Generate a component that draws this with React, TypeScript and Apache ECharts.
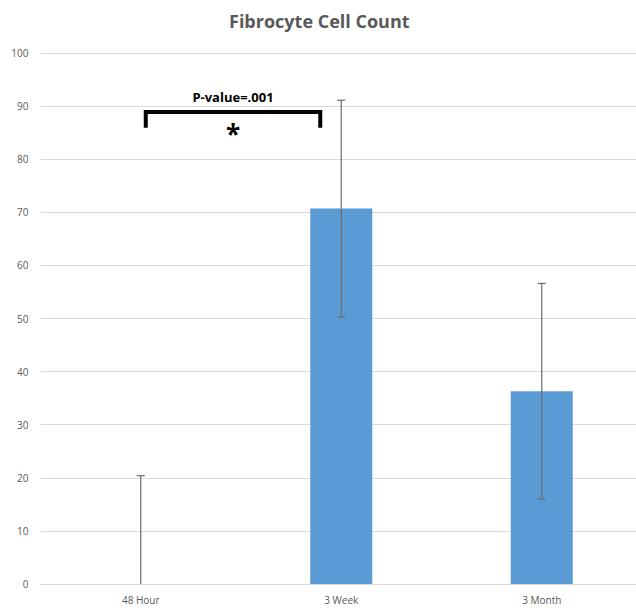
import React, { useEffect, useRef } from "react";
import * as echarts from "echarts";

const categories = ["48 Hour", "3 Week", "3 Month"];
const means = [0, 70.7, 36.3];
const errors = [20.4, 20.4, 20.3];
const bracket = { from: 0, to: 1, top: 88.9, bottom: 85.9, label: "P-value=.001", mark: "*" };

export default function App() {
  const ref = useRef<HTMLDivElement>(null);
  useEffect(() => {
    if (!ref.current) return;
    const chart = echarts.init(ref.current, null, { renderer: "svg" });
    const gray = "#595959";
    chart.setOption({
      animation: false,
      title: {
        text: "Fibrocyte Cell Count",
        left: 224,
        top: 7,
        textStyle: { fontFamily: "Open Sans", fontWeight: "bold", fontSize: 18, color: gray },
      },
      grid: { left: 40.5, right: 0, top: 53, bottom: 26, containLabel: false },
      xAxis: {
        type: "category",
        data: categories,
        axisLine: { lineStyle: { color: "#d9d9d9", width: 1 } },
        axisTick: { show: false },
        axisLabel: { color: gray, fontSize: 10, fontFamily: "Open Sans", margin: 11 },
      },
      yAxis: {
        type: "value",
        min: 0,
        max: 100,
        interval: 10,
        axisLine: { show: false },
        axisTick: { show: false },
        axisLabel: { color: gray, fontSize: 10, fontFamily: "Open Sans", margin: 12 },
        splitLine: { lineStyle: { color: "#d9d9d9", width: 1 } },
      },
      series: [
        {
          type: "bar",
          data: means,
          barWidth: 62,
          itemStyle: { color: "#5b9bd5" },
        },
        {
          type: "custom",
          data: means.map((m, i) => [i, m - errors[i], m + errors[i]]),
          renderItem: (params: any, api: any) => {
            const x = api.value(0);
            const lo = api.coord([x, Math.max(0, api.value(1))]);
            const hi = api.coord([x, api.value(2)]);
            const cap = 4;
            const style = { stroke: "#6b6b6b", lineWidth: 1.2 };
            const children: any[] = [
              { type: "line", shape: { x1: lo[0], y1: lo[1], x2: hi[0], y2: hi[1] }, style },
              { type: "line", shape: { x1: hi[0] - cap, y1: hi[1], x2: hi[0] + cap, y2: hi[1] }, style },
            ];
            if (api.value(1) > 0) {
              children.push({ type: "line", shape: { x1: lo[0] - cap, y1: lo[1], x2: lo[0] + cap, y2: lo[1] }, style });
            }
            return { type: "group", children };
          },
          z: 5,
        },
        {
          type: "custom",
          data: [[bracket.from, bracket.to, bracket.top, bracket.bottom]],
          renderItem: (params: any, api: any) => {
            const a = api.coord([api.value(0), api.value(2)]);
            const b = api.coord([api.value(1), api.value(2)]);
            const yb = api.coord([api.value(0), api.value(3)])[1];
            const x1 = a[0] + 5;
            const x2 = b[0] - 21;
            const y = a[1];
            const mid = (x1 + x2) / 2;
            return {
              type: "group",
              children: [
                {
                  type: "polyline",
                  shape: { points: [[x1, yb], [x1, y], [x2, y], [x2, yb]] },
                  style: { stroke: "#000", lineWidth: 4, fill: "none", lineJoin: "miter" },
                },
                {
                  type: "text",
                  style: {
                    text: bracket.label,
                    x: mid,
                    y: y - 15,
                    align: "center",
                    verticalAlign: "middle",
                    font: "bold 13px 'Open Sans'",
                    fill: "#000",
                  },
                },
                {
                  type: "text",
                  style: {
                    text: bracket.mark,
                    x: mid,
                    y: y + 22,
                    align: "center",
                    verticalAlign: "middle",
                    font: "bold 26px 'Open Sans'",
                    fill: "#000",
                  },
                },
              ],
            };
          },
          z: 6,
        },
      ],
    });
    return () => chart.dispose();
  }, []);
  return (
    <div style={{ position: "absolute", left: 0, top: 0, width: 636, height: 610, overflow: "hidden" }}>
      <div ref={ref} style={{ width: 642, height: 610 }} />
    </div>
  );
}
